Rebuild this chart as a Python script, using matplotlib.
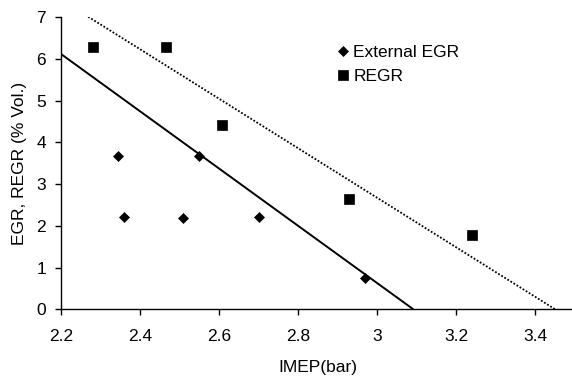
import matplotlib
matplotlib.use("Agg")
import matplotlib.pyplot as plt

# Data
ext_egr_imep = [2.345, 2.36, 2.51, 2.55, 2.70, 2.97]
ext_egr_vals = [3.67, 2.21, 2.20, 3.67, 2.21, 0.74]
regr_imep = [2.28, 2.467, 2.608, 2.93, 3.24]
regr_vals = [6.30, 6.30, 4.43, 2.64, 1.77]
# trend lines (end points)
solid_x = [2.2, 3.092]
solid_y = [6.12, 0.0]
dotted_x = [2.261, 3.451]
dotted_y = [7.06, 0.0]

x_ticks = [2.2, 2.4, 2.6, 2.8, 3.0, 3.2, 3.4]
x_ticklabels = ["2.2", "2.4", "2.6", "2.8", "3", "3.2", "3.4"]
y_ticks = [0, 1, 2, 3, 4, 5, 6, 7]

plt.rcParams['font.family'] = ['Liberation Sans', 'DejaVu Sans']

fig = plt.figure(figsize=(5.72, 3.83), dpi=100)
W, H = 572, 383
left, right = 61, 574.5
top, bottom = 17.3, 309.3
ax = fig.add_axes([left / W, 1 - bottom / H, (right - left) / W, (bottom - top) / H])

ax.plot(solid_x, solid_y, color='black', lw=1.4, solid_capstyle='butt')
ax.plot(dotted_x, dotted_y, color='black', lw=1.3, linestyle=(0, (1, 1)))
ax.plot(ext_egr_imep, ext_egr_vals, linestyle='none', marker='D', ms=5.0, mew=0.5,
        color='black', label='External EGR')
ax.plot(regr_imep, regr_vals, linestyle='none', marker='s', ms=7.4, mew=0.5,
        color='black', label='REGR')

ax.set_xlim(2.2, 3.5)
ax.set_ylim(0, 7)
ax.set_xticks(x_ticks)
ax.set_xticklabels(x_ticklabels)
ax.set_yticks(y_ticks)
ax.tick_params(direction='out', length=4.3, width=1, labelsize=12.5, colors='black')
ax.tick_params(axis='x', pad=9.7)
ax.tick_params(axis='y', pad=6.5)
for s in ['top', 'right']:
    ax.spines[s].set_visible(False)
for s in ['left', 'bottom']:
    ax.spines[s].set_linewidth(1)
    ax.spines[s].set_clip_on(False)

ax.set_xlabel('IMEP(bar)', fontsize=12.5, labelpad=12)
ax.set_ylabel('EGR, REGR (% Vol.)', fontsize=12.5, labelpad=7)

leg = ax.legend(loc='upper left', bbox_to_anchor=((336 - left) / (right - left), (bottom - 45) / (bottom - top)),
                frameon=False, fontsize=12.5, handlelength=0.8, handletextpad=0.2,
                labelspacing=0.5, borderaxespad=0, borderpad=0)

fig.savefig('out.png', dpi=100)
